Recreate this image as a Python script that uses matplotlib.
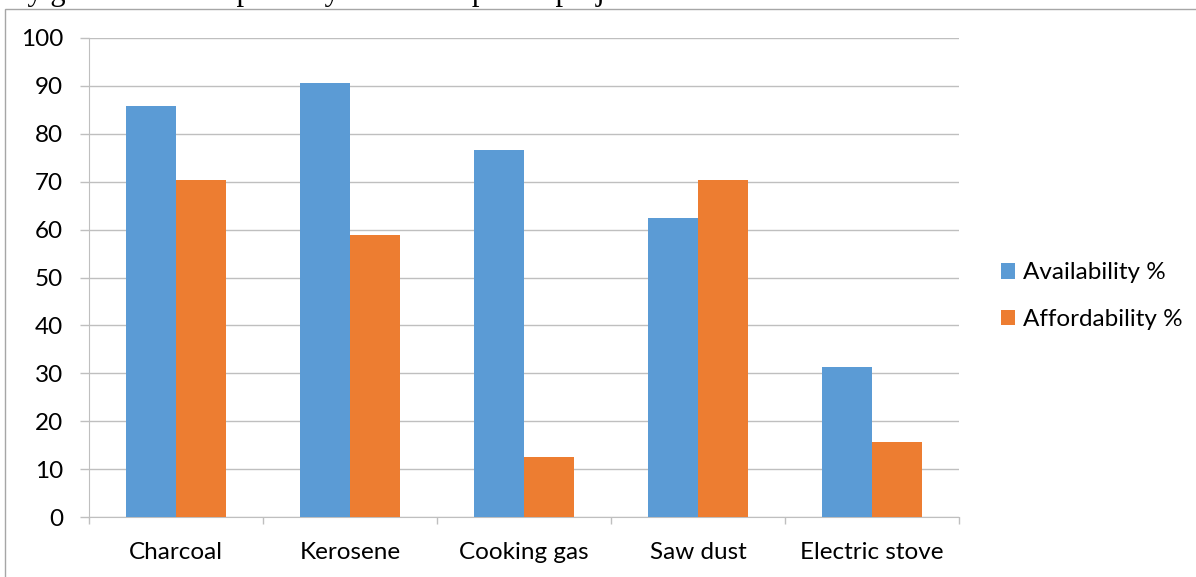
import matplotlib
matplotlib.use("Agg")
import matplotlib.pyplot as plt
import numpy as np
from matplotlib.patches import Rectangle

categories = ["Charcoal", "Kerosene", "Cooking gas", "Saw dust", "Electric stove"]
availability = [85.9, 90.6, 76.6, 62.5, 31.3]
affordability = [70.3, 58.9, 12.5, 70.3, 15.6]
yticks = [0, 10, 20, 30, 40, 50, 60, 70, 80, 90, 100]
series_names = ["Availability %", "Affordability %"]

BLUE = "#5B9BD5"
ORANGE = "#ED7D31"
GRID = "#BFBFBF"
FS = 17.5

plt.rcParams['font.family'] = ['Lato', 'DejaVu Sans']

W, H = 1196, 577
fig = plt.figure(figsize=(W / 100, H / 100), dpi=100)

# outer chart frame (partially cropped)
frame = Rectangle((5 / W, -0.05), 1.2, 1 - 9 / H + 0.05, transform=fig.transFigure,
                  fill=False, edgecolor="#A6A6A6", linewidth=1.0, clip_on=False)
fig.patches.append(frame)

# clipped line of document text at the top
fig.text(0.012, 1 + 8 / H, "ey government as pathway for development projects.",
         fontsize=22, family="Liberation Serif", va="center", ha="left", color="black")

left, right = 89 / W, 959 / W
bottom, top = 517 / H, 38 / H
ax = fig.add_axes([left, 1 - bottom, right - left, bottom - top])

x = np.arange(len(categories))
bw = 0.287
ax.bar(x - bw / 2, availability, width=bw, color=BLUE, label=series_names[0], zorder=3)
ax.bar(x + bw / 2, affordability, width=bw, color=ORANGE, label=series_names[1], zorder=3)

ax.set_xlim(-0.5, len(categories) - 0.5)
ax.set_ylim(0, 100)
ax.set_yticks(yticks)
ax.set_yticklabels([str(v) for v in yticks], fontsize=FS)
ax.yaxis.grid(True, color=GRID, linewidth=1.0, zorder=0)
ax.set_axisbelow(True)

ax.set_xticks(x)
ax.set_xticklabels(categories, fontsize=FS)
ax.tick_params(axis='x', length=0, pad=18)
ax.set_xticks(np.arange(-0.5, len(categories)), minor=True)
ax.tick_params(axis='x', which='minor', length=5, color=GRID, width=1.0)
ax.tick_params(axis='y', length=6.5, color=GRID, width=1.0, pad=12)

for s in ["top", "right"]:
    ax.spines[s].set_visible(False)
ax.spines["left"].set_color(GRID)
ax.spines["bottom"].set_color(GRID)

leg = ax.legend(loc="center left", bbox_to_anchor=(1.048, 0.461), frameon=False,
                fontsize=FS, handlelength=0.6, handleheight=0.6,
                handletextpad=0.3, labelspacing=1.05, borderpad=0, borderaxespad=0)

fig.savefig("out.png", dpi=100)
